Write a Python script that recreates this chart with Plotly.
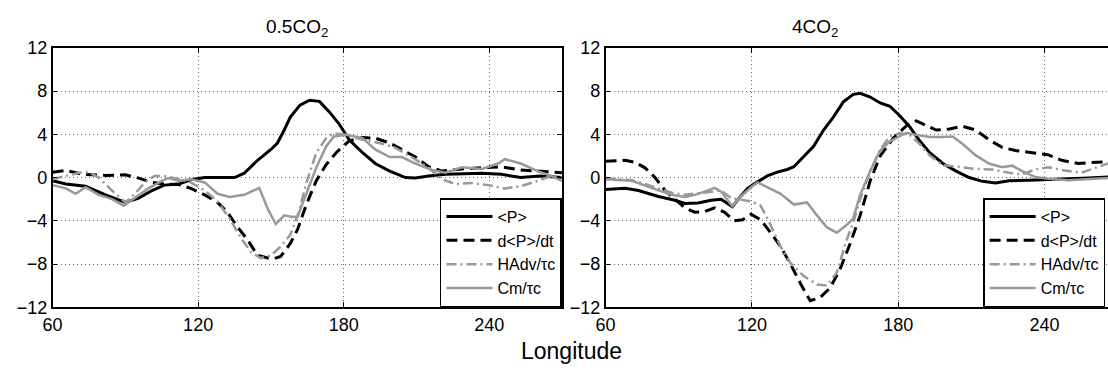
import plotly.graph_objects as go

# ---------------- data: 0.5CO2 panel ----------------
lon_p_a = [60, 65.5, 73.6, 81.8, 90, 95.5, 101, 106, 112, 117, 122.7, 135, 139, 144.5, 150, 152.7,
           155.5, 158, 162, 165.9, 170, 174, 178, 182.3, 187.8, 193, 199, 205.5, 209.6, 215, 222,
           228.7, 236.9, 245, 253, 261, 270]
p_a = [-0.3, -0.6, -0.8, -1.6, -2.3, -1.9, -1.2, -0.7, -0.6, -0.2, 0.0, 0.0, 0.4, 1.6, 2.6, 3.2,
       4.4, 5.6, 6.7, 7.15, 7.05, 6.1, 5.0, 3.5, 2.3, 1.3, 0.6, 0.0, -0.05, 0.15, 0.3,
       0.35, 0.4, 0.3, 0.0, 0.15, 0.0]

lon_dpdt_a = [60, 65.5, 72.3, 81.8, 90, 95.5, 101, 106, 112, 117, 122.7, 128, 132, 136, 140.5, 144.5,
              148.7, 151.4, 154, 158, 161, 164.6, 168.7, 172.8, 176.9, 182.3, 187.8, 193, 199, 204,
              209.6, 215, 220.5, 228.7, 237, 245, 253, 261, 270]
dpdt_a = [0.5, 0.65, 0.3, 0.2, 0.25, -0.05, -0.45, -0.6, -0.65, -1.0, -1.6, -2.3, -3.2, -4.5, -5.8, -7.2,
          -7.45, -7.5, -7.3, -6.1, -4.8, -2.5, -0.3, 1.2, 2.3, 3.4, 3.7, 3.65, 3.2, 2.6,
          1.9, 1.0, 0.6, 0.8, 0.9, 1.0, 0.7, 0.6, 0.45]

lon_hadv_a = [60, 65.5, 71, 75, 79, 84.5, 90, 94, 98, 102, 106, 112, 117, 122.7, 128, 133, 137.7,
              141.8, 145.8, 150, 154, 158, 161.5, 164.6, 168.7, 172.8, 176, 181, 187.8, 194.6, 201,
              208, 215, 220.5, 226, 232.8, 239.6, 246.4, 253, 260, 265.5, 270]
hadv_a = [-0.15, 0.15, 0.45, 0.5, 0.0, -1.2, -2.3, -1.5, -0.45, 0.15, 0.15, -0.15, -0.45, -1.2, -2.2, -3.8, -5.6,
          -6.9, -7.45, -7.2, -6.4, -5.3, -3.2, -0.5, 2.3, 3.65, 4.1, 3.95, 3.5, 3.2, 2.8,
          1.9, 0.9, -0.15, -0.6, -0.5, -0.7, -1.0, -0.8, -0.3, 0.15, 0.0]

lon_cm_a = [60, 65.5, 69.5, 73.6, 79, 84.5, 89.3, 94, 99.5, 105, 107.7, 112, 117, 122.7, 128, 133,
            139, 145.2, 148.7, 152, 155.5, 159, 161, 164.6, 168.7, 172.8, 176, 181, 187.8, 193, 199,
            204, 209.6, 216.4, 222, 228.7, 237, 243.7, 246.4, 253, 260, 265.5, 270]
cm_a = [-0.7, -1.0, -1.5, -0.9, -1.6, -2.0, -2.6, -1.9, -1.0, -0.3, -0.05, -0.3, -0.15, -0.45, -1.5, -1.8,
        -1.6, -0.95, -2.9, -4.3, -3.5, -3.65, -3.6, -1.5, 0.9, 2.9, 3.8, 3.95, 3.65, 2.6, 1.9,
        1.9, 1.3, 0.7, 0.45, 0.95, 0.8, 1.3, 1.7, 1.3, 0.6, 0.15, -0.3]

# ---------------- data: 4CO2 panel ----------------
lon_p_b = [60, 68, 73.5, 81.7, 88.4, 92.5, 97.9, 103.3, 107.4, 110, 112, 114.8, 118.2, 122.3, 126.3,
           130.4, 134.5, 137.2, 141.2, 145.3, 149.4, 153.4, 157.5, 161.6, 164.4, 168.5, 172.6, 176.6,
           180.7, 184.7, 188.8, 192.9, 198.3, 203.7, 209.1, 214.5, 219.9, 225.4, 233.5, 241.6, 249.7,
           257.9, 266, 270]
p_b = [-1.1, -1.0, -1.2, -1.75, -2.1, -2.4, -2.35, -2.1, -2.0, -2.4, -2.7, -1.9, -1.0, -0.4, 0.15,
       0.5, 0.75, 1.0, 1.9, 2.9, 4.4, 5.6, 7.0, 7.7, 7.8, 7.45, 6.9, 6.6,
       5.7, 4.7, 3.4, 2.3, 1.3, 0.6, 0.0, -0.35, -0.5, -0.3, -0.25, -0.2, -0.15,
       -0.05, 0.05, 0.05]

lon_dpdt_b = [60, 68, 72.2, 76.2, 80.3, 84.4, 88.4, 92.5, 96.6, 100.6, 104.7, 108.7, 112.8, 116.2,
              119.6, 123.6, 127.7, 131.8, 135.8, 139.9, 143.9, 148, 152.1, 156.1, 160.3, 164.4,
              168.5, 172.6, 178, 183.4, 187.4, 191.5, 195.6, 201, 206.4, 211.8, 217.2, 222.6, 228,
              233.5, 241.6, 247, 253.8, 259.2, 266, 270]
dpdt_b = [1.5, 1.6, 1.4, 0.9, 0.0, -1.2, -2.0, -2.8, -3.2, -3.15, -2.8, -3.2, -4.0, -3.9,
          -3.4, -3.9, -5.1, -6.4, -8.0, -9.8, -11.4, -11.1, -10.2, -8.5, -6.1, -3.5,
          -0.3, 2.0, 3.65, 4.8, 5.25, 4.8, 4.4, 4.5, 4.75, 4.4, 3.5, 2.8, 2.5,
          2.35, 2.1, 1.6, 1.3, 1.4, 1.5, 1.5]

lon_hadv_b = [60, 65.4, 70.8, 76.2, 81.7, 87, 92.5, 97.9, 103.3, 107.4, 111.4, 115.5, 119.6, 123.6,
              127.7, 131.8, 135.8, 141.2, 146.7, 150.7, 154.8, 158.8, 161.5, 164.4, 168.5, 172.6,
              176.6, 180.7, 184.7, 188.8, 192.9, 198.3, 205, 211.8, 218.6, 225.4, 230.8, 236.2,
              241.6, 248.4, 255.1, 260.6, 266, 270]
hadv_b = [-0.05, -0.15, -0.25, -0.6, -1.0, -1.4, -1.6, -1.45, -1.3, -1.2, -1.9, -2.05, -2.2, -2.6,
          -4.4, -6.4, -7.9, -9.1, -9.9, -10.0, -8.8, -5.8, -4.2, -2.0, 0.6, 2.6,
          3.8, 4.1, 3.95, 3.1, 2.05, 1.15, 0.95, 0.8, 0.75, 0.45, 0.3, 0.75,
          0.95, 0.65, 0.45, 0.9, 1.3, 1.4]

lon_cm_b = [60, 65.4, 70.8, 76.2, 81.7, 87, 92.5, 96.6, 100.6, 104.7, 107.4, 110, 112, 115.5, 119.6,
            122.3, 126.3, 131.8, 137.2, 142.6, 146.7, 150.7, 154.8, 158.8, 161.5, 164.4, 168.5,
            172.6, 176.6, 180.7, 183.4, 187.4, 192.9, 198.3, 202.3, 206.4, 211.8, 217.2, 222.6,
            226.7, 230.8, 236.2, 241.6, 249.7, 257.9, 266, 270]
cm_b = [-0.15, -0.25, -0.3, -0.75, -1.2, -1.6, -1.8, -1.6, -1.3, -0.95, -1.3, -2.05, -2.65, -1.75, -0.9,
        -0.45, -0.9, -1.5, -2.5, -2.3, -3.5, -4.6, -5.1, -4.4, -3.8, -1.6, 0.6,
        2.5, 3.35, 3.8, 4.15, 3.95, 3.75, 3.75, 3.8, 3.1, 2.05, 1.3, 0.95,
        1.1, 0.6, 0.05, -0.1, -0.25, -0.15, 0.0, 0.0]

series_names = ["&lt;P&gt;", "d&lt;P&gt;/dt", "HAdv/τc", "Cm/τc"]
x_ticks = [60, 120, 180, 240]
y_ticks = [-12, -8, -4, 0, 4, 8, 12]
panel_titles = ["0.5CO<sub>2</sub>", "4CO<sub>2</sub>"]

GRAY = "#999999"
styles = [
    dict(color="black", width=3, dash="solid"),
    dict(color="black", width=3, dash="11px,6px"),
    dict(color=GRAY, width=2.5, dash="10px,4px,2px,4px"),
    dict(color=GRAY, width=2.5, dash="solid"),
]

fig = go.Figure()
panels = [
    ("x", "y", "legend", [(lon_p_a, p_a), (lon_dpdt_a, dpdt_a), (lon_hadv_a, hadv_a), (lon_cm_a, cm_a)]),
    ("x2", "y2", "legend2", [(lon_p_b, p_b), (lon_dpdt_b, dpdt_b), (lon_hadv_b, hadv_b), (lon_cm_b, cm_b)]),
]
for xa, ya, lg, data in panels:
    for (lx, vals), name, st in zip(data, series_names, styles):
        fig.add_trace(go.Scatter(x=lx, y=vals, mode="lines", name=name, line=st,
                                 xaxis=xa, yaxis=ya, legend=lg, showlegend=True))

FONT = "Liberation Sans, Arial, sans-serif"
axis_common = dict(showline=True, linecolor="black", linewidth=1.5, ticks="inside", ticklen=5,
                   tickcolor="black", tickwidth=1, showgrid=True, gridcolor="#666666", gridwidth=1,
                   griddash="1px,3px", zeroline=False, tickfont=dict(size=18, color="black", family=FONT))

xl = (0.0388, 0.5027)
xr = (0.5424, 1.0)
yd = (0.1627, 0.8933)

legend_common = dict(bgcolor="white", bordercolor="black", borderwidth=1.5,
                     font=dict(size=16, color="black", family=FONT), yanchor="bottom",
                     tracegroupgap=0, itemwidth=46)

fig.update_layout(
    width=1108, height=375, margin=dict(l=0, r=0, t=0, b=0),
    paper_bgcolor="white", plot_bgcolor="white",
    font=dict(family=FONT, color="black"),
    xaxis=dict(domain=list(xl), range=[60, 270], tickvals=x_ticks, anchor="y", mirror="ticks", **axis_common),
    yaxis=dict(domain=list(yd), range=[-12, 12], tickvals=y_ticks, anchor="x", mirror="ticks", **axis_common),
    xaxis2=dict(domain=list(xr), range=[60, 266], tickvals=x_ticks, anchor="y2", mirror="ticks", **axis_common),
    yaxis2=dict(domain=list(yd), range=[-12, 12], tickvals=y_ticks, anchor="x2", mirror=False, **axis_common),
    legend=dict(x=xl[1], xanchor="right", y=0.163, **legend_common),
    legend2=dict(x=982 / 1108, xanchor="left", y=0.163, **legend_common),
    showlegend=True,
    annotations=[
        dict(text=panel_titles[0], x=290 / 1108, y=1 - 19 / 375, xref="paper", yref="paper",
             xanchor="center", yanchor="middle",
             showarrow=False, font=dict(size=19, family=FONT, color="black")),
        dict(text=panel_titles[1], x=812 / 1108, y=1 - 19 / 375, xref="paper", yref="paper",
             xanchor="center", yanchor="middle",
             showarrow=False, font=dict(size=19, family=FONT, color="black")),
        dict(text="Longitude", x=567 / 1108, y=1 - 360 / 375, xref="paper", yref="paper",
             xanchor="center", yanchor="middle",
             showarrow=False, font=dict(size=23, family=FONT, color="black")),
    ],
)

fig.write_html("out.html")
